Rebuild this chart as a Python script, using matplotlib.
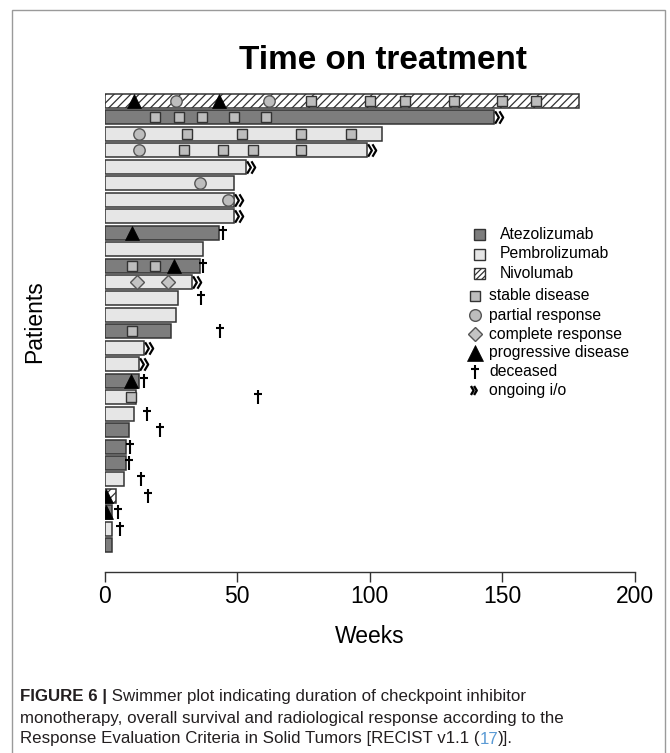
import matplotlib
matplotlib.use('Agg')
import matplotlib.pyplot as plt
from matplotlib import font_manager as fm
from matplotlib.path import Path
from matplotlib.markers import MarkerStyle
from matplotlib.patches import Rectangle
from matplotlib.lines import Line2D

# ---------------- data ----------------
# patients listed top to bottom (1 = top row)
patients = list(range(1, 29))
drug = ['Nivolumab', 'Atezolizumab', 'Pembrolizumab', 'Pembrolizumab', 'Pembrolizumab',
        'Pembrolizumab', 'Pembrolizumab', 'Pembrolizumab', 'Atezolizumab', 'Pembrolizumab',
        'Atezolizumab', 'Pembrolizumab', 'Pembrolizumab', 'Pembrolizumab', 'Atezolizumab',
        'Pembrolizumab', 'Pembrolizumab', 'Atezolizumab', 'Pembrolizumab', 'Pembrolizumab',
        'Atezolizumab', 'Atezolizumab', 'Atezolizumab', 'Pembrolizumab', 'Nivolumab',
        'Atezolizumab', 'Pembrolizumab', 'Atezolizumab']
duration = [178.8, 146.7, 104.8, 98.9, 53.3, 49.0, 49.0, 49.0, 43.0, 37.0,
            36.0, 33.1, 27.8, 27.0, 25.1, 15.0, 13.1, 13.1, 12.0, 11.1,
            9.1, 8.1, 8.1, 7.2, 4.2, 2.9, 2.9, 2.9]
ongoing_patients = [2, 4, 5, 7, 8, 12, 16, 17]
deceased_patients = [9, 11, 13, 15, 18, 19, 20, 21, 22, 23, 24, 25, 26, 27]
deceased_week = [44.6, 37.3, 36.4, 43.6, 14.9, 57.7, 15.9, 21.0, 9.6, 9.4, 13.8, 16.3, 5.2, 6.0]

sd_patient = [1, 1, 1, 1, 1, 1, 2, 2, 2, 2, 2, 3, 3, 3, 3, 4, 4, 4, 4, 11, 11, 15, 19]
sd_week = [77.8, 100.0, 113.2, 131.7, 150.0, 162.6, 19.0, 28.1, 36.9, 49.0, 61.0,
           31.0, 51.9, 73.9, 92.9, 30.0, 44.8, 55.9, 73.9, 10.3, 19.0, 10.3, 10.0]
pr_patient = [1, 1, 3, 4, 6, 7]
pr_week = [27.0, 62.0, 13.1, 13.1, 36.0, 46.6]
cr_patient = [12, 12]
cr_week = [12.1, 24.1]
pd_patient = [1, 1, 9, 11, 18, 25, 26]
pd_week = [11.3, 43.0, 10.3, 26.2, 10.0, 0.4, 0.4]

xticks = [0, 50, 100, 150, 200]

# ---------------- style ----------------
W, H = 670, 753
names = {f.name for f in fm.fontManager.ttflist}
SANS = 'Liberation Sans'
NARROW = 'Liberation Sans Narrow' if 'Liberation Sans Narrow' in names else 'Liberation Sans'
plt.rcParams['font.family'] = [SANS, 'DejaVu Sans']
plt.rcParams['hatch.linewidth'] = 0.9

fill = {'Atezolizumab': '#7d7d7d', 'Pembrolizumab': '#e6e6e6', 'Nivolumab': '#ffffff'}
hatch = {'Atezolizumab': None, 'Pembrolizumab': None, 'Nivolumab': '////'}
EDGE = '#333333'

def px(x, y):
    return (x / W, 1 - y / H)

chev = MarkerStyle(Path([(0.1, 1), (0.7, 0), (0.1, -1), (0.8, 1), (1.4, 0), (0.8, -1)],
                        [Path.MOVETO, Path.LINETO, Path.LINETO, Path.MOVETO, Path.LINETO, Path.LINETO]),
                   joinstyle='miter')
dagger = MarkerStyle(Path([(0, -1), (0, 1), (-0.55, 0.45), (0.55, 0.45)],
                          [Path.MOVETO, Path.LINETO, Path.MOVETO, Path.LINETO]))

fig = plt.figure(figsize=(W / 100, H / 100), dpi=100)

# outer frame
fig.add_artist(Rectangle(px(12, 1000), (665 - 12) / W, (1000 - 10) / H,
                         transform=fig.transFigure, fill=False, edgecolor='#9a9a9a', lw=1.0))

ax_left, ax_right, ax_bot, ax_top = 104.5, 635.0, 572.0, 90.0
ax = fig.add_axes([ax_left / W, 1 - ax_bot / H, (ax_right - ax_left) / W, (ax_bot - ax_top) / H])
ax.patch.set_alpha(0)

pitch = (545.3 - 101.0) / 27
ypos = {p: 29 - p for p in patients}
ax.set_xlim(0, 200)
ax.set_ylim(1 - (ax_bot - 545.3) / pitch, 28 + (101.0 - ax_top) / pitch)

for p, d, w in zip(patients, drug, duration):
    ax.barh(ypos[p], w, left=0, height=0.85, color=fill[d], edgecolor=EDGE,
            lw=1.1, hatch=hatch[d], zorder=2)

def pts(plist):
    return [ypos[p] for p in plist]

ax.plot(sd_week, pts(sd_patient), ls='none', marker='s', ms=7.3, mfc='#bdbdbd', mec=EDGE, mew=1.0, zorder=3, clip_on=False)
ax.plot(pr_week, pts(pr_patient), ls='none', marker='o', ms=8.2, mfc='#bdbdbd', mec='#555555', mew=1.0, zorder=3, clip_on=False)
ax.plot(cr_week, pts(cr_patient), ls='none', marker='D', ms=6.8, mfc='#c4c4c4', mec='#555555', mew=1.0, zorder=3, clip_on=False)
ax.plot(pd_week, pts(pd_patient), ls='none', marker='^', ms=9.5, mfc='black', mec='black', mew=0.5, zorder=4, clip_on=True)
ax.plot(deceased_week, pts(deceased_patients), ls='none', marker=dagger, ms=10.5, mfc='none', mec='black', mew=1.5, zorder=4, clip_on=False)
og_x = [duration[p - 1] for p in ongoing_patients]
ax.plot(og_x, pts(ongoing_patients), ls='none', marker=chev, ms=12.5, mfc='none', mec='black', mew=1.6, zorder=4, clip_on=False)

# axes styling
for s in ['left', 'right', 'top']:
    ax.spines[s].set_visible(False)
ax.spines['bottom'].set_color(EDGE)
ax.spines['bottom'].set_linewidth(1.0)
ax.set_xticks(xticks)
ax.set_xticklabels([str(t) for t in xticks])
ax.tick_params(axis='x', direction='out', length=7.2, width=1.0, color=EDGE, labelsize=16.5, pad=2.5)
ax.set_yticks([])
ax.set_xlabel('Weeks', fontsize=16.5, labelpad=12)
ax.set_ylabel('Patients', fontsize=16.5)
ax.yaxis.set_label_coords((35 - ax_left) / (ax_right - ax_left), (ax_bot - 322) / (ax_bot - ax_top))
ax.yaxis.label.set_verticalalignment('center')

# legend (manual, figure pixel coords)
LFS = 11.3
for (name, yy) in [('Atezolizumab', 234.5), ('Pembrolizumab', 254.0), ('Nivolumab', 273.0)]:
    fig.add_artist(Rectangle(px(473.5, yy + 5.5), 11 / W, 11 / H, transform=fig.transFigure,
                             facecolor=fill[name], edgecolor=EDGE, lw=1.0,
                             hatch=('//////' if hatch[name] else None)))
    fig.text(*px(500, yy), name, fontsize=LFS, va='center', ha='left')

leg2 = [('stable disease', 296.0, dict(marker='s', ms=7.3, mfc='#bdbdbd', mec=EDGE, mew=1.0)),
        ('partial response', 315.0, dict(marker='o', ms=8.4, mfc='#bdbdbd', mec='#555555', mew=1.0)),
        ('complete response', 334.0, dict(marker='D', ms=7.5, mfc='#c4c4c4', mec='#555555', mew=1.0)),
        ('progressive disease', 352.5, dict(marker='^', ms=11, mfc='black', mec='black', mew=0.5)),
        ('deceased', 371.5, dict(marker=dagger, ms=10.5, mfc='none', mec='black', mew=1.5)),
        ('ongoing i/o', 390.0, dict(marker=chev, ms=9, mfc='none', mec='black', mew=1.7))]
for name, yy, kw in leg2:
    mx = 470.5 if name == 'ongoing i/o' else 475.0
    fig.add_artist(Line2D([mx / W], [1 - yy / H], transform=fig.transFigure, ls='none', **kw))
    fig.text(*px(489, yy), name, fontsize=LFS, va='center', ha='left')

# title
title = fig.text(382.6 / W, 1 - 68.6 / H, 'Time on treatment', ha='center', va='baseline',
                 weight='bold', fontsize=26, family=[NARROW, 'DejaVu Sans'])

# caption
CAP = '#231f20'
cfam = [NARROW, 'DejaVu Sans']
c1a = fig.text(*px(20, 697), 'FIGURE 6 |', weight='bold', fontsize=12, va='center', color=CAP, family=cfam)
c2 = fig.text(*px(20, 718), 'monotherapy, overall survival and radiological response according to the',
              fontsize=12, va='center', color=CAP, family=cfam)
c3a = fig.text(*px(20, 739), 'Response Evaluation Criteria in Solid Tumors [RECIST v1.1 (',
               fontsize=12, va='center', color=CAP, family=cfam)

r = fig.canvas.get_renderer()
w2 = c2.get_window_extent(renderer=r).width
cfs = 12 * 545.0 / w2
wt = title.get_window_extent(renderer=r).width
title.set_fontsize(26 * 288.0 / wt)
for t in (c1a, c2, c3a):
    t.set_fontsize(cfs)

def chain(prev, s, color=CAP, weight='normal'):
    return ax.annotate(s, xy=(1, 0), xycoords=prev, va='bottom', ha='left', fontsize=cfs,
                       color=color, weight=weight, family=cfam, annotation_clip=False)

chain(c1a, ' Swimmer plot indicating duration of checkpoint inhibitor')
c3b = chain(c3a, '17', color='#5b9bd5')
chain(c3b, ')].')

fig.savefig('out.png', dpi=100)
